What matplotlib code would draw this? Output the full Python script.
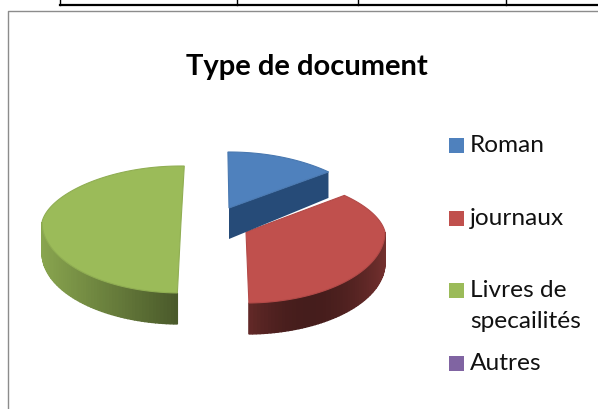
import numpy as np
import matplotlib
matplotlib.use('Agg')
import matplotlib.pyplot as plt
from matplotlib.patches import Rectangle, Polygon

labels = ['Roman', 'journaux', 'Livres de\nspecailités', 'Autres']
values = [14, 36, 50, 0]
colors = ['#4f81bd', '#c0504d', '#9bbb59', '#8064a2']

# layout, all in pixels of the picture
W, H = 598, 409
rx, ry_back, ry_front = 139, 56, 71
persp = 0.1
depth = 31
apex = [(229, 208), (246, 232), (181, 222)]
tilt = [-0.5, -1.2, 1.5]
legend_y = [145, 218, 290, 363]

plt.rcParams['font.family'] = ['Lato', 'DejaVu Sans']


def shade(col, f):
    rgb = np.array(matplotlib.colors.to_rgb(col))
    return tuple(rgb * f)


def rim(center, a):
    # a in radians, clockwise from the top, the back of the pie is a bit narrower
    ry = np.where(np.cos(a) > 0, ry_back, ry_front)
    k = 1 - persp * np.clip(np.cos(a), 0, 1)
    return center[0] + rx * np.sin(a) * k, center[1] - ry * np.cos(a)


fig = plt.figure(figsize=(W / 100, H / 100), dpi=100)
ax = fig.add_axes([0, 0, 1, 1])
ax.set_xlim(0, W)
ax.set_ylim(H, 0)
ax.axis('off')

# bottom of the table above the chart
ax.plot([60, W], [5, 5], color='k', lw=1.6)
for x in [60, 237, 358, 506]:
    ax.plot([x, x], [0, 5], color='k', lw=1)

# chart frame
ax.plot([7.5, 7.5, W], [H, 10.5, 10.5], color='#8c8c8c', lw=1)

ax.text(307, 67, 'Type de document', ha='center', va='center', fontsize=21,
        fontweight='bold', color='k')

shares = np.array(values) / sum(values) * 2 * np.pi
ends = np.cumsum(shares)
starts = ends - shares

for i in [2, 1, 0]:
    c = apex[i]
    a0 = starts[i] + np.radians(tilt[i])
    a1 = ends[i] + np.radians(tilt[i])
    x, y = rim(c, np.linspace(a0, a1, 120))

    if i == 0:
        # the cut side of the blue slice faces the viewer
        xe, ye = rim(c, a1)
        ax.add_patch(Polygon([c, (xe, ye), (xe, ye + depth - 5), (c[0], c[1] + depth)],
                             closed=True, fc='#264b78', ec='none'))
    else:
        # outer wall, only the front part of the rim shows
        lo = max(a0, np.pi / 2 if i == 1 else np.pi)
        hi = min(a1, np.pi * 1.5)
        t = np.linspace(lo, hi, 60)
        xw, yw = rim(c, t)
        u = (xw - xw.min()) / (xw.max() - xw.min())
        if i == 1:
            f = 0.36 + 0.2 * (2 * u - 0.9) ** 2
        else:
            f = 0.88 - 0.4 * u
        for k in range(len(t) - 1):
            col = shade(colors[i], f[k])
            ax.add_patch(Polygon([(xw[k], yw[k]), (xw[k + 1], yw[k + 1]),
                                  (xw[k + 1], yw[k + 1] + depth), (xw[k], yw[k] + depth)],
                                 closed=True, fc=col, ec=col, lw=1))

    # top face
    pts = np.column_stack([np.r_[c[0], x], np.r_[c[1], y]])
    ax.add_patch(Polygon(pts, closed=True, fc=colors[i], ec=shade(colors[i], 0.93), lw=0.8))

# legend
for lab, col, ly in zip(labels, colors, legend_y):
    ax.add_patch(Rectangle((449, ly - 7.5), 15, 15, fc=col, ec='none'))
    ax.text(470, ly - 10, lab, ha='left', va='top', fontsize=17.6, color='#111111', linespacing=1.6)

fig.savefig('out.png', dpi=100)
